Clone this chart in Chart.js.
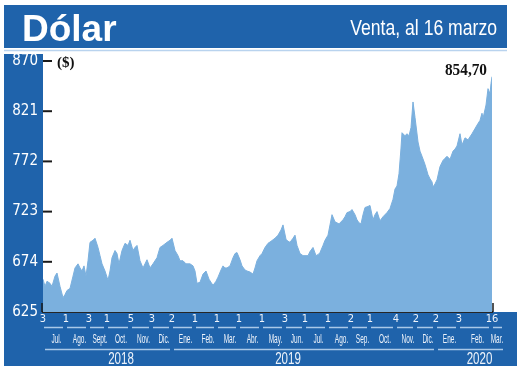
<!DOCTYPE html>
<html>
<head>
<meta charset="utf-8">
<script src="https://cdn.jsdelivr.net/npm/chart.js@4.4.1/dist/chart.umd.min.js"></script>
<style>
  html, body { margin: 0; padding: 0; background: #fff; }
</style>
</head>
<body>
<canvas id="dolar" width="520" height="371"></canvas>
<script>
// sesiones (índice de día hábil desde el 3 de julio de 2018)
const DAY_INDEX = [
  0, 2, 4, 7, 9, 12, 14, 17, 20, 22,
  24, 27, 30, 32, 35, 37, 39, 41, 43, 45,
  47, 50, 52, 55, 57, 59, 62, 64, 65, 67,
  69, 72, 74, 76, 79, 82, 85, 87, 90, 92,
  94, 97, 100, 102, 104, 107, 110, 114, 117, 120,
  124, 127, 129, 132, 135, 137, 140, 143, 145, 147,
  150, 152, 154, 157, 160, 163, 166, 168, 170, 173,
  175, 178, 180, 182, 184, 187, 190, 192, 194, 197,
  199, 202, 204, 207, 210, 212, 214, 217, 219, 222,
  225, 228, 232, 235, 238, 240, 243, 245, 247, 250,
  252, 254, 257, 260, 262, 265, 267, 270, 273, 275,
  277, 280, 282, 285, 287, 289, 292, 294, 296, 300,
  302, 304, 307, 309, 312, 314, 316, 318, 320, 322,
  325, 327, 330, 332, 334, 337, 340, 344, 347, 350,
  352, 354, 356, 358, 359, 362, 364, 366, 368, 370,
  372, 375, 377, 379, 382, 385, 387, 389, 390, 392,
  394, 397, 400, 402, 404, 407, 410, 412, 414, 417,
  419, 422, 425, 427, 429, 432, 435, 437, 439, 440,
  443, 445, 447, 448, 449,
];

// dólar venta ($)
const VENTA = [
  657, 650, 655, 653, 650, 660, 663, 650, 639, 642,
  646, 648, 660, 668, 672, 668, 665, 670, 660, 675,
  693, 695, 697, 688, 680, 672, 665, 659, 656, 665,
  678, 685, 682, 672, 685, 692, 690, 695, 685, 688,
  690, 675, 668, 672, 676, 668, 672, 678, 688, 690,
  693, 695, 697, 685, 680, 675, 675, 672, 672, 672,
  670, 665, 653, 654, 662, 665, 657, 654, 651, 655,
  659, 666, 670, 668, 668, 670, 678, 682, 683, 676,
  670, 666, 665, 664, 662, 668, 675, 680, 682, 688,
  692, 694, 697, 700, 705, 710, 696, 694, 693, 697,
  700, 690, 682, 680, 680, 680, 684, 688, 680, 681,
  683, 690, 695, 700, 710, 720, 713, 712, 711, 715,
  718, 722, 723, 725, 720, 715, 712, 711, 720, 727,
  728, 729, 715, 720, 723, 714, 718, 722, 726, 735,
  745, 748, 760, 785, 800, 797, 799, 797, 805, 830,
  815, 791, 782, 777, 769, 759, 755, 752, 747, 750,
  754, 767, 773, 775, 777, 774, 782, 784, 787, 799,
  788, 795, 793, 796, 799, 804, 809, 812, 819, 814,
  827, 843, 838, 848, 854.7,
];

// primer día hábil de cada mes, y el último dato (16 de marzo)
const MONTH_TICKS = [0, 23, 46, 64, 88, 109, 129, 152, 174, 196, 219, 242, 262, 285, 308, 327, 353, 373, 393, 416, 449];
const MONTH_DAY_LABELS = ["3", "1", "3", "1", "5", "3", "2", "1", "1", "1", "1", "3", "1", "1", "2", "1", "4", "2", "2", "3", "16"];
const MONTH_NAMES = ["Jul.", "Ago.", "Sept.", "Oct.", "Nov.", "Dic.", "Ene.", "Feb.", "Mar.", "Abr.", "May.", "Jun.", "Jul.", "Ago.", "Sep.", "Oct.", "Nov.", "Dic.", "Ene.", "Feb.", "Mar."];
const YEARS = ["2018", "2019", "2020"];
const YEAR_FIRST_MONTH = [0, 6, 18];

const Y_MIN = 625;
const Y_MAX = 870;
const Y_STEP = 49;

const BLUE = "#1f63ab";
const AREA = "#7bb0de";
const BAND_LINE = "#a9c8e8";
const BAND_TEXT = "#eef3fa";
const CONDENSED = "'DejaVu Sans Condensed', 'Liberation Sans', sans-serif";

function narrowText(ctx, text, x, y, font, sx, align, color) {
  ctx.save();
  ctx.font = font;
  ctx.fillStyle = color;
  ctx.textAlign = align;
  ctx.textBaseline = "middle";
  ctx.translate(x, y);
  ctx.scale(sx, 1);
  ctx.fillText(text, 0, 0);
  ctx.restore();
}

const frame = {
  id: "frame",
  beforeDraw(chart) {
    const { ctx, chartArea: a } = chart;
    ctx.save();
    ctx.fillStyle = "#fff";
    ctx.fillRect(0, 0, chart.width, chart.height);
    ctx.fillStyle = BLUE;
    ctx.fillRect(4, 5, 503, 43);
    ctx.fillRect(4, 54, a.left - 4, a.bottom - 54);
    ctx.fillRect(4, a.bottom, 513, 366 - a.bottom);
    ctx.strokeStyle = "#b9d3ee";
    ctx.lineWidth = 1.5;
    ctx.beginPath();
    ctx.moveTo(4, 50.5);
    ctx.lineTo(507, 50.5);
    ctx.stroke();
    ctx.restore();

    ctx.save();
    ctx.font = "bold 37px 'Liberation Sans', sans-serif";
    ctx.fillStyle = "#fff";
    ctx.textBaseline = "alphabetic";
    ctx.fillText("Dólar", 22, 41);
    ctx.restore();
    ctx.save();
    ctx.font = "22px 'Liberation Sans', sans-serif";
    ctx.fillStyle = "#fff";
    ctx.textAlign = "right";
    ctx.textBaseline = "alphabetic";
    ctx.translate(497, 35);
    ctx.scale(0.8, 1);
    ctx.fillText("Venta, al 16 marzo", 0, 0);
    ctx.restore();
  },
  afterDraw(chart) {
    const { ctx, chartArea: a } = chart;
    const xs = chart.scales.x;
    const ys = chart.scales.y;
    ctx.save();

    // marcas del eje y, hacia dentro
    ctx.strokeStyle = "#1a1a1a";
    ctx.lineWidth = 2;
    ys.ticks.forEach((t) => {
      if (t.value === Y_MIN) return;
      const y = ys.getPixelForValue(t.value);
      ctx.beginPath();
      ctx.moveTo(a.left, y);
      ctx.lineTo(a.left + 9, y);
      ctx.stroke();
    });
    ctx.lineWidth = 1.5;
    [a.left - 1, a.right + 1].forEach((x) => {
      ctx.beginPath();
      ctx.moveTo(x, a.bottom - 9);
      ctx.lineTo(x, a.bottom);
      ctx.stroke();
    });

    // meses
    const last = MONTH_TICKS.length - 1;
    ctx.strokeStyle = BAND_LINE;
    ctx.lineWidth = 1.5;
    MONTH_NAMES.forEach((name, i) => {
      const x0 = xs.getPixelForValue(MONTH_TICKS[i]);
      const x1 = i < last ? xs.getPixelForValue(MONTH_TICKS[i + 1]) : x0 + 13;
      const cx = i < last ? (x0 + x1) / 2 + 2 : x0 + 5;
      ctx.beginPath();
      ctx.moveTo(x0 + 1, a.bottom + 15.5);
      ctx.lineTo(x1 - 3, a.bottom + 15.5);
      ctx.stroke();
      narrowText(ctx, name, cx, a.bottom + 27, "13px 'Liberation Sans', sans-serif", 0.5, "center", BAND_TEXT);
    });

    // años
    YEARS.forEach((year, k) => {
      const first = YEAR_FIRST_MONTH[k];
      const next = k + 1 < YEARS.length ? YEAR_FIRST_MONTH[k + 1] : null;
      const x0 = xs.getPixelForValue(MONTH_TICKS[first]);
      const x1 = next !== null ? xs.getPixelForValue(MONTH_TICKS[next]) : xs.getPixelForValue(MONTH_TICKS[last]) + 13;
      ctx.beginPath();
      ctx.moveTo(x0 + 2, a.bottom + 37.5);
      ctx.lineTo(x1 - 2, a.bottom + 37.5);
      ctx.stroke();
    });
    const mid = (i) => (xs.getPixelForValue(MONTH_TICKS[i]) + xs.getPixelForValue(MONTH_TICKS[i + 1])) / 2;
    const yearX = [mid(3) + 2, xs.getPixelForValue(MONTH_TICKS[11]) + 3, mid(19) + 4];
    YEARS.forEach((year, k) => {
      narrowText(ctx, year, yearX[k], a.bottom + 47, "17px 'Liberation Sans', sans-serif", 0.68, "center", BAND_TEXT);
    });

    // rótulos
    ctx.font = "bold 15px 'Liberation Serif', serif";
    ctx.fillStyle = "#111";
    ctx.textBaseline = "middle";
    ctx.textAlign = "left";
    ctx.fillText("($)", a.left + 14, ys.getPixelForValue(Y_MAX) + 2);

    const lastX = xs.getPixelForValue(DAY_INDEX[DAY_INDEX.length - 1]);
    const lastV = VENTA[VENTA.length - 1];
    narrowText(ctx, lastV.toFixed(2).replace(".", ","), lastX - 5, a.top + 10,
      "bold 17px 'Liberation Serif', serif", 0.9, "right", "#111");
    ctx.restore();
  },
};

new Chart(document.getElementById("dolar"), {
  type: "line",
  data: {
    datasets: [
      {
        data: DAY_INDEX.map((d, i) => ({ x: d, y: VENTA[i] })),
        fill: "start",
        backgroundColor: AREA,
        borderColor: AREA,
        borderWidth: 1,
        pointRadius: 0,
        tension: 0,
      },
    ],
  },
  options: {
    responsive: false,
    animation: false,
    devicePixelRatio: 1,
    layout: { padding: { top: 61, right: 28, bottom: 0, left: 0 } },
    plugins: {
      legend: { display: false },
      tooltip: { enabled: false },
    },
    scales: {
      x: {
        type: "linear",
        min: 0,
        max: MONTH_TICKS[MONTH_TICKS.length - 1],
        afterBuildTicks: (scale) => {
          scale.ticks = MONTH_TICKS.map((v) => ({ value: v }));
        },
        afterFit: (scale) => {
          scale.height = 59;
        },
        grid: { display: false, drawTicks: false },
        border: { display: true, color: "#262626", width: 2 },
        ticks: {
          autoSkip: false,
          maxRotation: 0,
          padding: 1,
          color: BAND_TEXT,
          font: { family: CONDENSED, size: 11 },
          callback: (value, index) => MONTH_DAY_LABELS[index],
        },
      },
      y: {
        min: Y_MIN,
        max: Y_MAX,
        afterFit: (scale) => {
          scale.width = 43;
        },
        grid: { display: false, drawTicks: false },
        border: { display: false },
        ticks: {
          stepSize: Y_STEP,
          padding: 5,
          color: "#ffffff",
          font: { family: CONDENSED, size: 15 },
        },
      },
    },
  },
  plugins: [frame],
});
</script>
</body>
</html>
